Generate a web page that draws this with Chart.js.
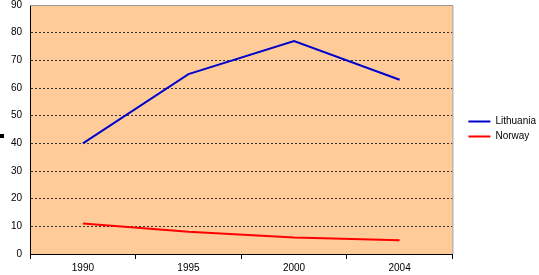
<!DOCTYPE html>
<html><head><meta charset="utf-8">
<script src="https://cdn.jsdelivr.net/npm/chart.js@4/dist/chart.umd.min.js"></script>
<style>html,body{margin:0;padding:0;background:#fff}#wrap{width:539px;height:275px}</style>
</head><body><div id="wrap"><canvas id="c" width="539" height="275"></canvas></div>
<script>
const categories = ['1990', '1995', '2000', '2004'];
const lithuania = [40, 65, 77, 63];
const norway = [11, 8, 6, 5];
const yTicks = [0, 10, 20, 30, 40, 50, 60, 70, 80, 90];

const plotDeco = {
  id: 'plotDeco',
  afterLayout(chart) {
    const l = chart.legend;
    if (l) { l.left += 11; l.right += 11; l.top -= 12; l.bottom -= 12; }
  },
  beforeDraw(chart) {
    const {ctx, chartArea: a} = chart;
    ctx.save();
    ctx.fillStyle = '#FFCC99';
    ctx.fillRect(a.left, a.top, a.right - a.left, a.bottom - a.top);
    ctx.restore();
  },
  afterDatasetsDraw(chart) {
    const {ctx, chartArea: a} = chart;
    ctx.save();
    ctx.strokeStyle = '#999999';
    ctx.lineWidth = 1;
    ctx.beginPath();
    ctx.moveTo(a.left, a.top + 0.5);
    ctx.lineTo(a.right + 0.5, a.top + 0.5);
    ctx.lineTo(a.right + 0.5, a.bottom);
    ctx.stroke();
    ctx.fillStyle = '#000';
    ctx.fillRect(0, 134, 4, 4);
    ctx.restore();
  }
};

Chart.defaults.font.family = 'Arial, "Liberation Sans", sans-serif';
Chart.defaults.font.size = 10;
Chart.defaults.color = '#000';

new Chart(document.getElementById('c'), {
  type: 'line',
  data: {
    labels: categories,
    datasets: [
      {label: 'Lithuania', data: lithuania, borderColor: '#0000CC', backgroundColor: '#0000CC', borderWidth: 2, pointRadius: 0, tension: 0},
      {label: 'Norway', data: norway, borderColor: '#FF0000', backgroundColor: '#FF0000', borderWidth: 2, pointRadius: 0, tension: 0}
    ]
  },
  plugins: [plotDeco],
  options: {
    responsive: false,
    animation: false,
    layout: {padding: {left: 3, top: 5, right: 4, bottom: -2}},
    plugins: {
      tooltip: {enabled: false},
      legend: {
        position: 'right',
        labels: {usePointStyle: true, pointStyle: 'line', pointStyleWidth: 22, boxHeight: 2, padding: 5, font: {size: 10}}
      }
    },
    scales: {
      x: {
        offset: true,
        grid: {offset: true, drawOnChartArea: false, drawTicks: true, tickLength: 5, color: '#000'},
        border: {color: '#000', width: 1},
        ticks: {padding: 3}
      },
      y: {
        min: 0, max: 90,
        afterBuildTicks(axis) { axis.ticks = yTicks.map(v => ({value: v})); },
        afterFit(axis) { axis.paddingTop = 0; },
        grid: {color: ctx => (ctx.tick && (ctx.tick.value === 0 || ctx.tick.value === 90)) ? 'rgba(0,0,0,0)' : '#333', drawTicks: false},
        border: {color: '#000', width: 1, dash: [2, 2]},
        ticks: {padding: 8}
      }
    }
  }
});
</script></body></html>
